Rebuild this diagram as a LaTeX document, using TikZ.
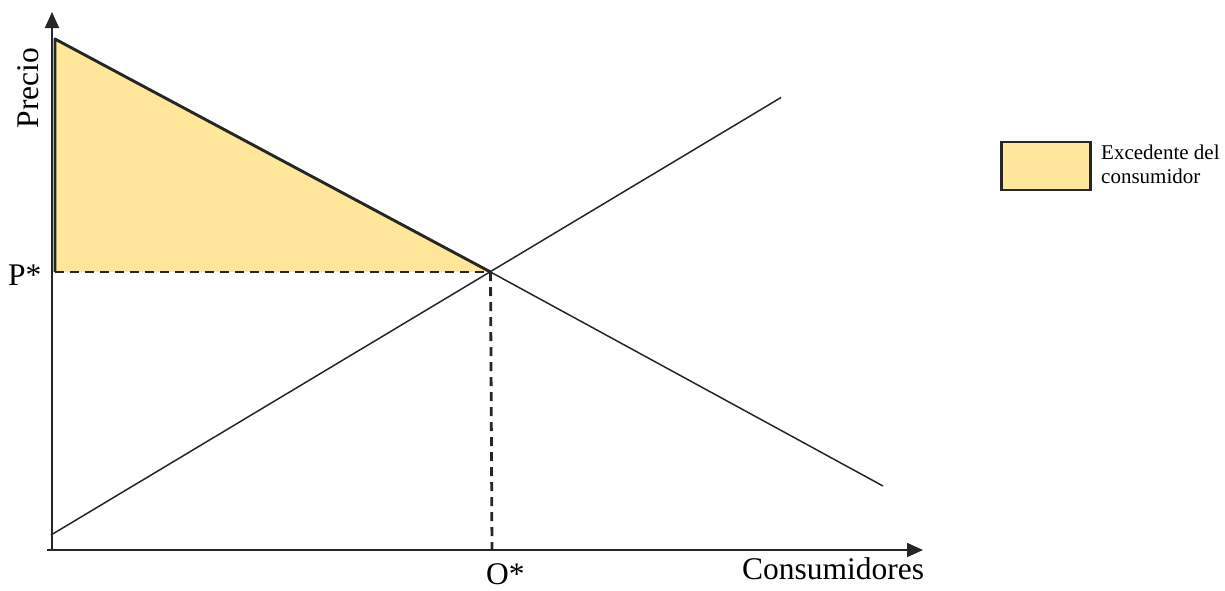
\documentclass[tikz,border=0pt]{standalone}
\usepackage{fontspec}
\setmainfont{Liberation Serif}
\usetikzlibrary{arrows.meta}
\definecolor{ink}{HTML}{262626}
\definecolor{surplus}{HTML}{FFE699}
\begin{document}
\begin{tikzpicture}[x=1pt,y=-1pt,
  axis/.style={draw=ink,line width=1.7pt,-{Triangle[length=16pt,width=14pt]}},
  curve/.style={draw=ink,line width=1.5pt},
  heavy/.style={draw=ink,line width=2.9pt,line join=round},
  guide/.style={draw=ink,line width=2.8pt,dash pattern=on 9pt off 6pt},
  lbl/.style={font=\fontsize{31.5}{36}\selectfont,inner sep=0pt},
  leglbl/.style={font=\fontsize{21}{24}\selectfont,inner sep=0pt,anchor=base west}]
\useasboundingbox (0,0) rectangle (1225,590);
\coordinate (O) at (52,550);
\coordinate (Ytip) at (52,12);
\coordinate (Xstart) at (47,550);
\coordinate (Xtip) at (923,550);
\coordinate (Dtop) at (55,39);
\coordinate (E) at (490.5,272);
\coordinate (Dend) at (883,486);
\coordinate (Sstart) at (51,535);
\coordinate (Send) at (781,97.5);
\coordinate (Pax) at (55,272);
\coordinate (Qax) at (492,550);
% consumer surplus
\fill[surplus] (Dtop) -- (E) -- (Pax) -- cycle;
% axes
\draw[axis] (O) -- (Ytip);
\draw[axis] (Xstart) -- (Xtip);
% supply and demand
\draw[curve] (Sstart) -- (Send);
\draw[curve] (E) -- (Dend);
\draw[heavy] (Pax) -- (Dtop) -- (E);
% guides
\draw[guide] (Pax) -- (E);
\draw[guide] (E) -- (Qax);
% labels
\node[lbl,anchor=base west] (pstar) at (8,285) {P*};
\node[lbl,anchor=base,rotate=90] (precio) at (38,88) {Precio};
\node[lbl,anchor=base west] (ostar) at (486,584) {O*};
\node[lbl,anchor=base west] (cons) at (742,579) {Consumidores};
% legend
\node[draw=ink,line width=2.5pt,fill=surplus,minimum width=89pt,minimum height=48pt,inner sep=0pt] (leg) at (1046,166) {};
\node[leglbl] (leg1) at (1101,159) {Excedente del};
\node[leglbl] (leg2) at (1101,183) {consumidor};
\end{tikzpicture}
\end{document}
